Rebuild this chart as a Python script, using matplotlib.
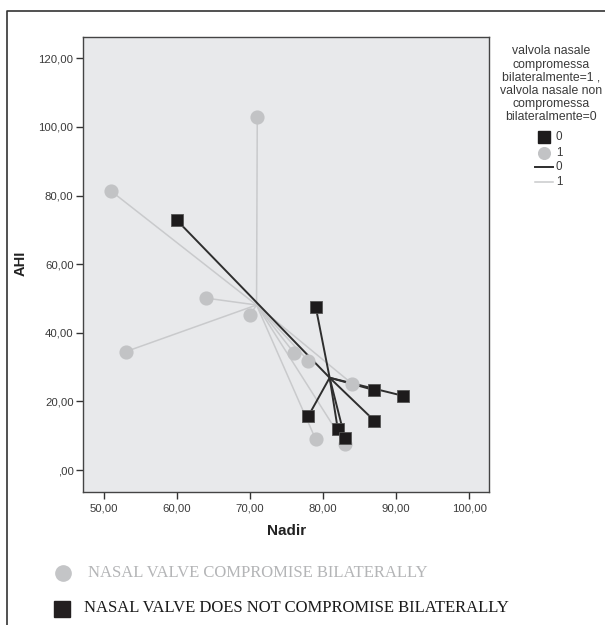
import matplotlib
matplotlib.use("Agg")
import matplotlib.pyplot as plt
from matplotlib.lines import Line2D

# ---------------- data ----------------
# group 1: nasal valve compromised bilaterally (grey circles)
nadir_1 = [71, 51, 64, 70, 53, 76, 78, 84, 79, 83]
ahi_1 = [103.0, 81.3, 50.1, 45.2, 34.5, 34.2, 31.8, 25.1, 8.9, 7.5]
# group 0: nasal valve not compromised bilaterally (black squares)
nadir_0 = [60, 79, 87, 91, 87, 78, 82, 83]
ahi_0 = [72.8, 47.5, 23.3, 21.6, 14.4, 15.8, 12.1, 9.2]
# group centroids as drawn in the chart (group 1, group 0)
centroid_nadir = [70.9, 80.9]
centroid_ahi = [48.1, 26.9]

x_ticks = [50, 60, 70, 80, 90, 100]
x_tick_labels = ["50,00", "60,00", "70,00", "80,00", "90,00", "100,00"]
y_ticks = [0, 20, 40, 60, 80, 100, 120]
y_tick_labels = [",00", "20,00", "40,00", "60,00", "80,00", "100,00", "120,00"]

legend_title = ("valvola nasale\ncompromessa\nbilateralmente=1 ,\n"
                "valvola nasale non\ncompromessa\nbilateralmente=0")
bottom_labels = ["NASAL VALVE COMPROMISE BILATERALLY",
                 "NASAL VALVE DOES NOT COMPROMISE BILATERALLY"]

# ---------------- style ----------------
GREY_PT = "#c2c3c5"
GREY_LN = "#c9cacc"
BLACK_PT = "#1d1b1c"
BLACK_LN = "#2e2e2e"
BG = "#e8e9eb"
TXT = "#3a3a3a"

plt.rcParams['font.family'] = ['Liberation Sans', 'DejaVu Sans']

fig = plt.figure(figsize=(6.05, 6.25), dpi=100)
W, H = 605, 625

def fx(px):
    return px / W

def fy(py):
    return 1 - py / H

ax = fig.add_axes([fx(83.3), fy(492), fx(489) - fx(83.3), fy(37) - fy(492)])
ax.set_facecolor(BG)
ax.set_xlim(47.2, 102.7)
ax.set_ylim(-6.4, 126.2)

# spokes from centroids
for xs, ys, cx, cy, col, lw, z in [
    (nadir_1, ahi_1, centroid_nadir[0], centroid_ahi[0], GREY_LN, 1.1, 2),
    (nadir_0, ahi_0, centroid_nadir[1], centroid_ahi[1], BLACK_LN, 1.4, 3),
]:
    for x, y in zip(xs, ys):
        ax.plot([cx, x], [cy, y], color=col, lw=lw, zorder=z, solid_capstyle='butt')

ax.plot(nadir_1, ahi_1, linestyle='none', marker='o', ms=9.2,
        mfc=GREY_PT, mec=GREY_PT, zorder=4)
ax.plot(nadir_0, ahi_0, linestyle='none', marker='s', ms=9.0,
        mfc=BLACK_PT, mec="#555555", mew=0.6, zorder=5)

ax.set_xticks(x_ticks)
ax.set_xticklabels(x_tick_labels)
ax.set_yticks(y_ticks)
ax.set_yticklabels(y_tick_labels)
ax.tick_params(axis='both', direction='out', length=5, width=1.0,
               color="#333333", labelsize=8.2, labelcolor=TXT, pad=2)
ax.tick_params(axis='x', pad=3)
for s in ax.spines.values():
    s.set_color("#444444")
    s.set_linewidth(1.0)

fig.text(fx(21), fy(263), "AHI", rotation=90, ha='center', va='center',
         fontsize=10.5, fontweight='bold', color="#222222")
fig.text(fx(287), fy(531), "Nadir", ha='center', va='center',
         fontsize=11, fontweight='bold', color="#222222")

# right legend
fig.text(fx(551), fy(84.2), legend_title, ha='center', va='center',
         fontsize=8.8, color=TXT, linespacing=1.12)
fig.add_artist(Line2D([fx(544.3)], [fy(137.3)], marker='s', ms=8.6,
                      mfc=BLACK_PT, mec=BLACK_PT, transform=fig.transFigure))
fig.add_artist(Line2D([fx(544.3)], [fy(153.3)], marker='o', ms=8.4,
                      mfc=GREY_PT, mec=GREY_PT, transform=fig.transFigure))
fig.add_artist(Line2D([fx(535), fx(553)], [fy(166.5), fy(166.5)], lw=1.4,
                      color=BLACK_LN, transform=fig.transFigure))
fig.add_artist(Line2D([fx(535), fx(553)], [fy(181.7), fy(181.7)], lw=1.1,
                      color=GREY_LN, transform=fig.transFigure))
for yy, lab in [(137.3, "0"), (153.3, "1"), (166.5, "0"), (181.7, "1")]:
    fig.text(fx(556), fy(yy), lab, ha='left', va='center', fontsize=8.4, color=TXT)

# bottom legend
fig.add_artist(Line2D([fx(63)], [fy(573)], marker='o', ms=11,
                      mfc="#c4c5c7", mec="#c4c5c7", transform=fig.transFigure))
fig.add_artist(Line2D([fx(62)], [fy(609)], marker='s', ms=11.5,
                      mfc="#231f20", mec="#231f20", transform=fig.transFigure))
fig.text(fx(88), fy(573), bottom_labels[0], ha='left', va='center',
         fontsize=11.95, color="#b4b5b7", family=['Liberation Serif', 'DejaVu Serif'])
fig.text(fx(84), fy(608), bottom_labels[1], ha='left', va='center',
         fontsize=11.95, color="#1a1a1a", family=['Liberation Serif', 'DejaVu Serif'])

# outer frame
fig.add_artist(Line2D([fx(6.5), fx(6.5), fx(605)], [0, fy(11), fy(11)],
                      lw=1.2, color="#333333", transform=fig.transFigure))

fig.savefig("out.png", dpi=100, facecolor="white")
